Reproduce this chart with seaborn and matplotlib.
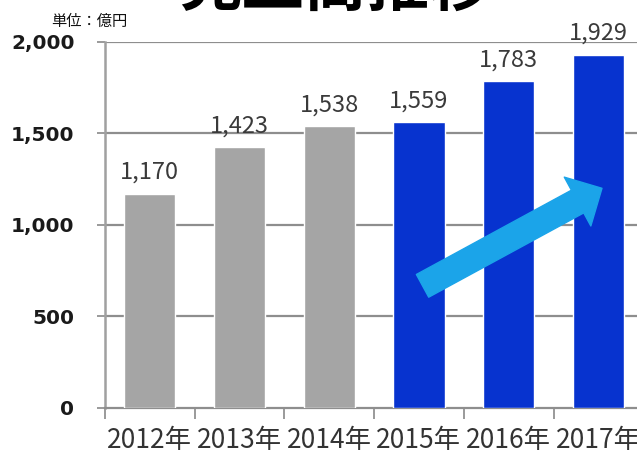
import matplotlib
matplotlib.use("Agg")
import matplotlib.pyplot as plt
import seaborn as sns
import pandas as pd

# Annual net sales (100 million yen)
years = ["2012年", "2013年", "2014年", "2015年", "2016年", "2017年"]
sales = [1170, 1423, 1538, 1559, 1783, 1929]
bar_colors = ["#a5a5a5", "#a5a5a5", "#a5a5a5", "#0733cf", "#0733cf", "#0733cf"]
y_ticks = [0, 500, 1000, 1500, 2000]
y_tick_labels = ["0", "500", "1,000", "1,500", "2,000"]
title_text = "売上高推移"
unit_text = "単位：億円"

sns.set_theme(style="white")
plt.rcParams["font.family"] = ["Noto Sans CJK JP", "DejaVu Sans"]

df = pd.DataFrame({"year": years, "sales": sales})

fig = plt.figure(figsize=(6.37, 4.67), dpi=100)
ax = fig.add_axes([0.1648, 0.127, 0.845, 0.7837])

sns.barplot(data=df, x="year", y="sales", hue="year", palette=bar_colors,
            legend=False, width=0.57, saturation=1, ax=ax, zorder=3)

ax.set_ylim(0, 2000)
ax.set_xlim(-0.5, len(years) - 0.5)
ax.set_yticks(y_ticks)
ax.set_yticklabels(y_tick_labels, fontsize=14.5, fontweight="bold",
                   family="DejaVu Sans", color="#1a1a1a")
ax.set_xlabel("")
ax.set_ylabel("")

# horizontal gridlines
for v in y_ticks[1:]:
    ax.axhline(v, color="#8e8e8e", lw=1.6, zorder=1)

# category separators on the x axis
ax.set_xticks([i - 0.5 for i in range(len(years) + 1)], minor=True)
ax.tick_params(axis="x", which="minor", length=8, width=1.4, color="#9a9a9a",
               direction="out", bottom=True)
ax.tick_params(axis="x", which="major", length=0, pad=14)
ax.tick_params(axis="y", which="major", length=6, width=1.4, color="#9a9a9a",
               direction="out", left=True, pad=16)
for lab in ax.get_xticklabels():
    lab.set_fontsize(19)
    lab.set_color("#333333")

for side in ["top", "right"]:
    ax.spines[side].set_visible(False)
ax.spines["left"].set_color("#a0a0a0")
ax.spines["left"].set_linewidth(1.8)
ax.spines["bottom"].set_color("#8e8e8e")
ax.spines["bottom"].set_linewidth(1.6)

# value labels
for i, v in enumerate(sales):
    ax.annotate(f"{v:,}", xy=(i, v), xytext=(0, 7), textcoords="offset points",
                ha="center", va="bottom", fontsize=17, color="#3a3a3a",
                annotation_clip=False)

# growth arrow
ax.annotate("", xy=(5.04, 1199), xytext=(3.04, 666),
            arrowprops=dict(arrowstyle="simple,head_length=1.0,head_width=2.0,tail_width=0.93",
                            mutation_scale=20, color="#1ba4e9", shrinkA=0, shrinkB=0),
            zorder=5)

fig.text(0.526, 0.989, title_text, ha="center", va="baseline", fontsize=45,
         fontweight="bold", color="#000000")
fig.text(0.08, 0.953, unit_text, ha="left", va="center", fontsize=11, color="#111111")

fig.savefig("out.png", dpi=100, facecolor="white")
